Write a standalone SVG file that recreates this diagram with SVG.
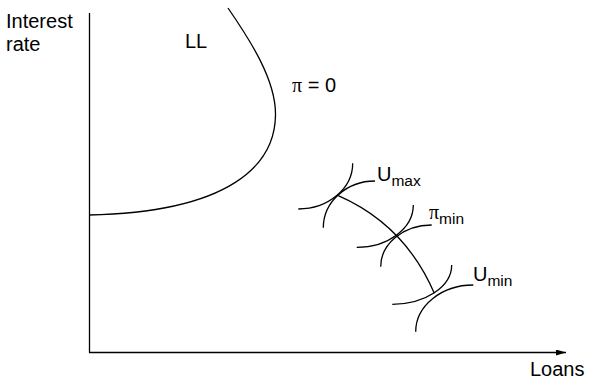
<svg xmlns="http://www.w3.org/2000/svg" width="590" height="380" viewBox="0 0 590 380">
<style>
.t{font-family:"Liberation Sans",Arial,sans-serif;font-size:20px;fill:#000}
.s{font-size:15.5px}
.p{font-family:"Liberation Serif","Times New Roman",serif}
.c{fill:none;stroke:#000;stroke-width:1.3}
</style>
<defs>
<marker id="ah" viewBox="0 0 10 6" refX="10" refY="3" markerWidth="10" markerHeight="6" markerUnits="userSpaceOnUse" orient="auto">
<path d="M0,0 L10,3 L0,6 Z" fill="#000"/>
</marker>
</defs>
<g id="axes">
<line class="c" x1="89.5" y1="13" x2="89.5" y2="352.5"/>
<line class="c" x1="89" y1="352.5" x2="566" y2="352.5" marker-end="url(#ah)"/>
</g>
<g id="labels">
<text class="t" x="6" y="28">Interest</text>
<text class="t" x="6" y="51">rate</text>
<text class="t" x="530" y="376">Loans</text>
</g>
<g id="LL">
<path class="c" d="M228,8 C250,40 276,80 275.5,115 C275,165 230,212 89,215"/>
<text class="t" x="185" y="48">LL</text>
<text class="t" x="292" y="92"><tspan class="p">π</tspan> = 0</text>
</g>
<g id="connectors">
<path class="c" d="M338.3,195.7 Q405,225 434.3,293.3"/>
</g>
<g id="Umax">
<path class="c" d="M298.3,209 A54.4,45.7 0 0 0 352.7,163.3"/>
<path class="c" d="M323.3,227.7 A51.7,46.7 0 0 1 375,181"/>
<text class="t" x="377" y="181">U<tspan class="s" dy="5">max</tspan></text>
</g>
<g id="pimin">
<path class="c" d="M356.7,247.3 A56.6,42.3 0 0 0 413.3,205"/>
<path class="c" d="M380.7,266.7 A51,41.7 0 0 1 431.7,225"/>
<text class="t" x="429" y="219"><tspan class="p">π</tspan><tspan class="s" dy="5">min</tspan></text>
</g>
<g id="Umin">
<path class="c" d="M392.3,304.3 A59.4,39.3 0 0 0 451.7,265"/>
<path class="c" d="M415.7,331.7 A57.6,46.7 0 0 1 473.3,285"/>
<text class="t" x="473" y="281">U<tspan class="s" dy="5">min</tspan></text>
</g>
</svg>
